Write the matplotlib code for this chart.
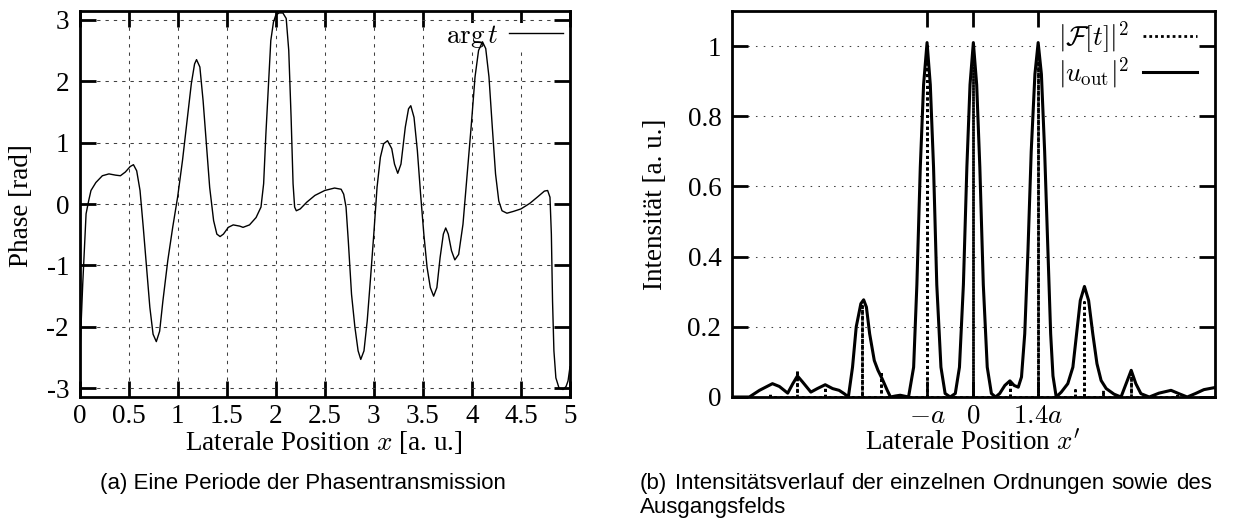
import matplotlib
matplotlib.use("Agg")
import matplotlib.pyplot as plt
import numpy as np

plt.rcParams["font.family"] = ["Liberation Serif", "DejaVu Serif"]
plt.rcParams["mathtext.fontset"] = "cm"
plt.rcParams["axes.unicode_minus"] = False

# (a) phase of one period
phase_x = [0.0, 0.033, 0.067, 0.093, 0.117, 0.167, 0.233, 0.3, 0.367, 0.417,
           0.467, 0.517, 0.55, 0.583, 0.617, 0.65, 0.683, 0.717, 0.75, 0.783,
           0.817, 0.85, 0.9, 0.95, 1.0, 1.05, 1.1, 1.14, 1.173, 1.193,
           1.227, 1.26, 1.293, 1.327, 1.367, 1.4, 1.433, 1.467, 1.517, 1.567,
           1.6, 1.633, 1.667, 1.733, 1.8, 1.85, 1.877, 1.9, 1.927, 1.95,
           1.977, 2.0, 2.033, 2.073, 2.107, 2.133, 2.157, 2.177, 2.193, 2.21,
           2.25, 2.317, 2.4, 2.5, 2.6, 2.667, 2.693, 2.717, 2.74, 2.773,
           2.807, 2.84, 2.867, 2.9, 2.933, 2.967, 3.0, 3.033, 3.067, 3.1,
           3.14, 3.183, 3.211, 3.244, 3.277, 3.321, 3.354, 3.377, 3.41, 3.444,
           3.477, 3.51, 3.543, 3.576, 3.61, 3.643, 3.676, 3.709, 3.733, 3.759,
           3.792, 3.826, 3.865, 3.909, 3.952, 3.992, 4.032, 4.068, 4.108, 4.141,
           4.174, 4.208, 4.241, 4.274, 4.307, 4.357, 4.424, 4.5, 4.59, 4.673,
           4.739, 4.772, 4.796, 4.81, 4.822, 4.836, 4.856, 4.889, 4.93, 4.96,
           4.98, 5.0]
phase_y = [-2.6, -1.3, -0.16, 0.05, 0.22, 0.35, 0.46, 0.49, 0.47, 0.46,
           0.52, 0.61, 0.64, 0.54, 0.22, -0.38, -1.03, -1.68, -2.12, -2.24,
           -2.07, -1.58, -0.92, -0.38, 0.11, 0.71, 1.41, 1.96, 2.28, 2.35,
           2.23, 1.68, 0.98, 0.27, -0.27, -0.49, -0.53, -0.49, -0.38, -0.34,
           -0.35, -0.36, -0.38, -0.34, -0.22, -0.05, 0.33, 1.14, 1.96, 2.66,
           2.96, 3.07, 3.11, 3.11, 3.02, 2.5, 1.41, 0.33, -0.05, -0.11,
           -0.08, 0.03, 0.14, 0.22, 0.26, 0.24, 0.16, -0.05, -0.6, -1.47,
           -2.0, -2.39, -2.53, -2.39, -1.9, -1.2, -0.49, 0.27, 0.76, 0.98,
           1.03, 0.9, 0.65, 0.5, 0.65, 1.25, 1.55, 1.6, 1.41, 0.87,
           0.16, -0.49, -1.03, -1.36, -1.5, -1.36, -0.87, -0.49, -0.39, -0.49,
           -0.76, -0.91, -0.82, -0.33, 0.49, 1.25, 2.07, 2.5, 2.64, 2.53,
           2.07, 1.25, 0.49, 0.05, -0.11, -0.15, -0.12, -0.08, 0.01, 0.12,
           0.21, 0.22, 0.11, -0.49, -1.58, -2.39, -2.83, -3.0, -3.02, -2.97,
           -2.88, -2.65]

# (b) output intensity |u_out|^2 over x' in units of a
out_x = [-5.22, -4.84, -4.62, -4.34, -4.19, -4.01, -3.9, -3.8, -3.69, -3.51,
         -3.37, -3.2, -3.04, -2.9, -2.79, -2.7, -2.61, -2.53, -2.43, -2.37,
         -2.31, -2.24, -2.14, -2.06, -1.97, -1.86, -1.79, -1.68, -1.58, -1.4,
         -1.29, -1.22, -1.146, -1.075, -1.0, -0.93, -0.86, -0.79, -0.7, -0.61,
         -0.5, -0.39, -0.3, -0.215, -0.14, -0.072, 0.0, 0.072, 0.14, 0.215,
         0.3, 0.39, 0.48, 0.57, 0.68, 0.79, 0.88, 0.97, 1.04, 1.11,
         1.18, 1.25, 1.33, 1.4, 1.47, 1.54, 1.61, 1.67, 1.72, 1.79,
         1.9, 2.04, 2.15, 2.23, 2.31, 2.4, 2.49, 2.58, 2.67, 2.76,
         2.87, 3.04, 3.19, 3.3, 3.41, 3.51, 3.62, 3.8, 4.01, 4.27,
         4.44, 4.62, 4.8, 4.98, 5.22]
out_y = [0.0, 0.0, 0.019, 0.038, 0.03, 0.011, 0.038, 0.06, 0.043, 0.014,
         0.024, 0.035, 0.024, 0.019, 0.0095, 0.0, 0.085, 0.2, 0.266, 0.277,
         0.256, 0.18, 0.104, 0.076, 0.052, 0.019, 0.0, 0.003, 0.005, 0.0,
         0.085, 0.32, 0.655, 0.89, 1.01, 0.89, 0.655, 0.32, 0.085, 0.01,
         0.0, 0.01, 0.085, 0.32, 0.655, 0.89, 1.01, 0.89, 0.655, 0.32,
         0.085, 0.01, 0.0, 0.01, 0.033, 0.046, 0.033, 0.028, 0.057, 0.18,
         0.418, 0.7, 0.92, 1.01, 0.92, 0.7, 0.42, 0.18, 0.06, 0.0,
         0.014, 0.038, 0.085, 0.18, 0.275, 0.315, 0.275, 0.18, 0.095, 0.047,
         0.024, 0.008, 0.0, 0.038, 0.076, 0.038, 0.0095, 0.0, 0.011, 0.019,
         0.0095, 0.0, 0.01, 0.021, 0.027]

# (b) diffraction orders |F[t]|^2
order_x = [-4.4, -3.8, -3.2, -2.4, -2.0, -1.0, 0.0, 0.8, 1.4, 2.2, 2.4, 2.8, 3.4, 4.4]
order_h = [0.012, 0.078, 0.028, 0.26, 0.075, 1.0, 1.0, 0.045, 1.0, 0.02, 0.27, 0.02, 0.068, 0.012]

phase_xticks = [0, 0.5, 1, 1.5, 2, 2.5, 3, 3.5, 4, 4.5, 5]
phase_xlabels = ["0", "0.5", "1", "1.5", "2", "2.5", "3", "3.5", "4", "4.5", "5"]
phase_yticks = [-3, -2, -1, 0, 1, 2, 3]
phase_ylabels = ["-3", "-2", "-1", "0", "1", "2", "3"]
int_yticks = [0, 0.2, 0.4, 0.6, 0.8, 1]
int_ylabels = ["0", "0.2", "0.4", "0.6", "0.8", "1"]
int_xticks = [-1, 0, 1.4]
int_xlabels = [r"$-a$", r"$0$", r"$1.4a$"]

W, H = 1258, 526
fig = plt.figure(figsize=(W / 100, H / 100), dpi=100)


def fpos(px, py):
    return px / W, 1 - py / H


def style_axes(ax):
    for s in ax.spines.values():
        s.set_linewidth(2)
    ax.tick_params(direction="in", length=11.5, width=2, top=True, right=True,
                   labelsize=19.5)
    ax.tick_params(axis="x", pad=5)
    ax.tick_params(axis="y", pad=7.5)


# ---- (a) phase ----
ax1 = fig.add_axes([79.5 / W, 1 - 397 / H, 490.5 / W, 386 / H])
ax1.plot(phase_x, phase_y, color="black", lw=1.0, zorder=3, label=r"$\arg t$")
ax1.set_xlim(0, 5)
ax1.set_ylim(-np.pi, np.pi)
ax1.set_xticks(phase_xticks, phase_xlabels)
ax1.set_yticks(phase_yticks, phase_ylabels)
ax1.grid(True, color="0.25", lw=0.75, linestyle=(0, (3.2, 4.8)))
style_axes(ax1)
leg1 = ax1.legend(loc="upper right", bbox_to_anchor=(0.986, 0.969), fontsize=19.5,
                  markerfirst=False, handlelength=2.0, handletextpad=0.4,
                  borderpad=0, borderaxespad=0, fancybox=False,
                  facecolor="white", edgecolor="none", framealpha=1)
leg1.set_zorder(2.5)

# ---- (b) intensity ----
ax2 = fig.add_axes([731.7 / W, 1 - 397 / H, 483.3 / W, 386 / H])
stem_x, stem_y = [], []
for xo, h in zip(order_x, order_h):
    stem_x += [xo, xo, xo]
    stem_y += [0, h, 0]
ax2.plot(stem_x, stem_y, color="black", lw=2.0, linestyle=(0, (1, 1.1)),
         zorder=3, label=r"$|\mathcal{F}[t]|^2$")
ax2.plot(out_x, out_y, color="black", lw=2.2, zorder=3.2,
         label=r"$|u_{\mathrm{out}}|^2$")
ax2.set_xlim(-5.22, 5.22)
ax2.set_ylim(0, 1.1)
ax2.set_xticks(int_xticks, int_xlabels)
ax2.set_yticks(int_yticks, int_ylabels)
ax2.grid(True, axis="y", color="0.25", lw=0.75, linestyle=(0, (1.5, 6)))
style_axes(ax2)
leg2 = ax2.legend(loc="upper right", bbox_to_anchor=(0.963, 0.979), fontsize=19.5,
                  markerfirst=False, handlelength=2.0, handletextpad=0.5,
                  labelspacing=0.0, borderpad=0, borderaxespad=0, fancybox=False,
                  facecolor="white", edgecolor="none", framealpha=1)
leg2.set_zorder(2.5)

# axis labels
lab = dict(fontsize=19.5, ha="center", va="center")
fig.text(*fpos(22, 206), "Phase [rad]", rotation=90, **lab)
fig.text(*fpos(324, 443), "Laterale Position $x$ [a. u.]", **lab)
fig.text(*fpos(656, 204), "Intensität [a. u.]", rotation=90, **lab)
fig.text(*fpos(973, 443), "Laterale Position $x'$", **lab)

# captions (baseline aligned)
cap = dict(fontsize=16, family="Liberation Sans", va="baseline")
fig.text(*fpos(303, 489), "(a) Eine Periode der Phasentransmission", ha="center", **cap)

# first caption line of (b) is justified to the column width
words = "(b) Intensitätsverlauf der einzelnen Ordnungen sowie des".split()
texts = [fig.text(0, 1 - 489 / H, w, ha="left", **cap) for w in words]
renderer = fig.canvas.get_renderer()
widths = [t.get_window_extent(renderer).width for t in texts]
gap = (1212 - 640 - sum(widths)) / (len(words) - 1)
xpos = 640
for t, w in zip(texts, widths):
    t.set_x(xpos / W)
    xpos += w + gap
fig.text(*fpos(640, 513), "Ausgangsfelds", ha="left", **cap)

fig.savefig("out.png", dpi=100)
